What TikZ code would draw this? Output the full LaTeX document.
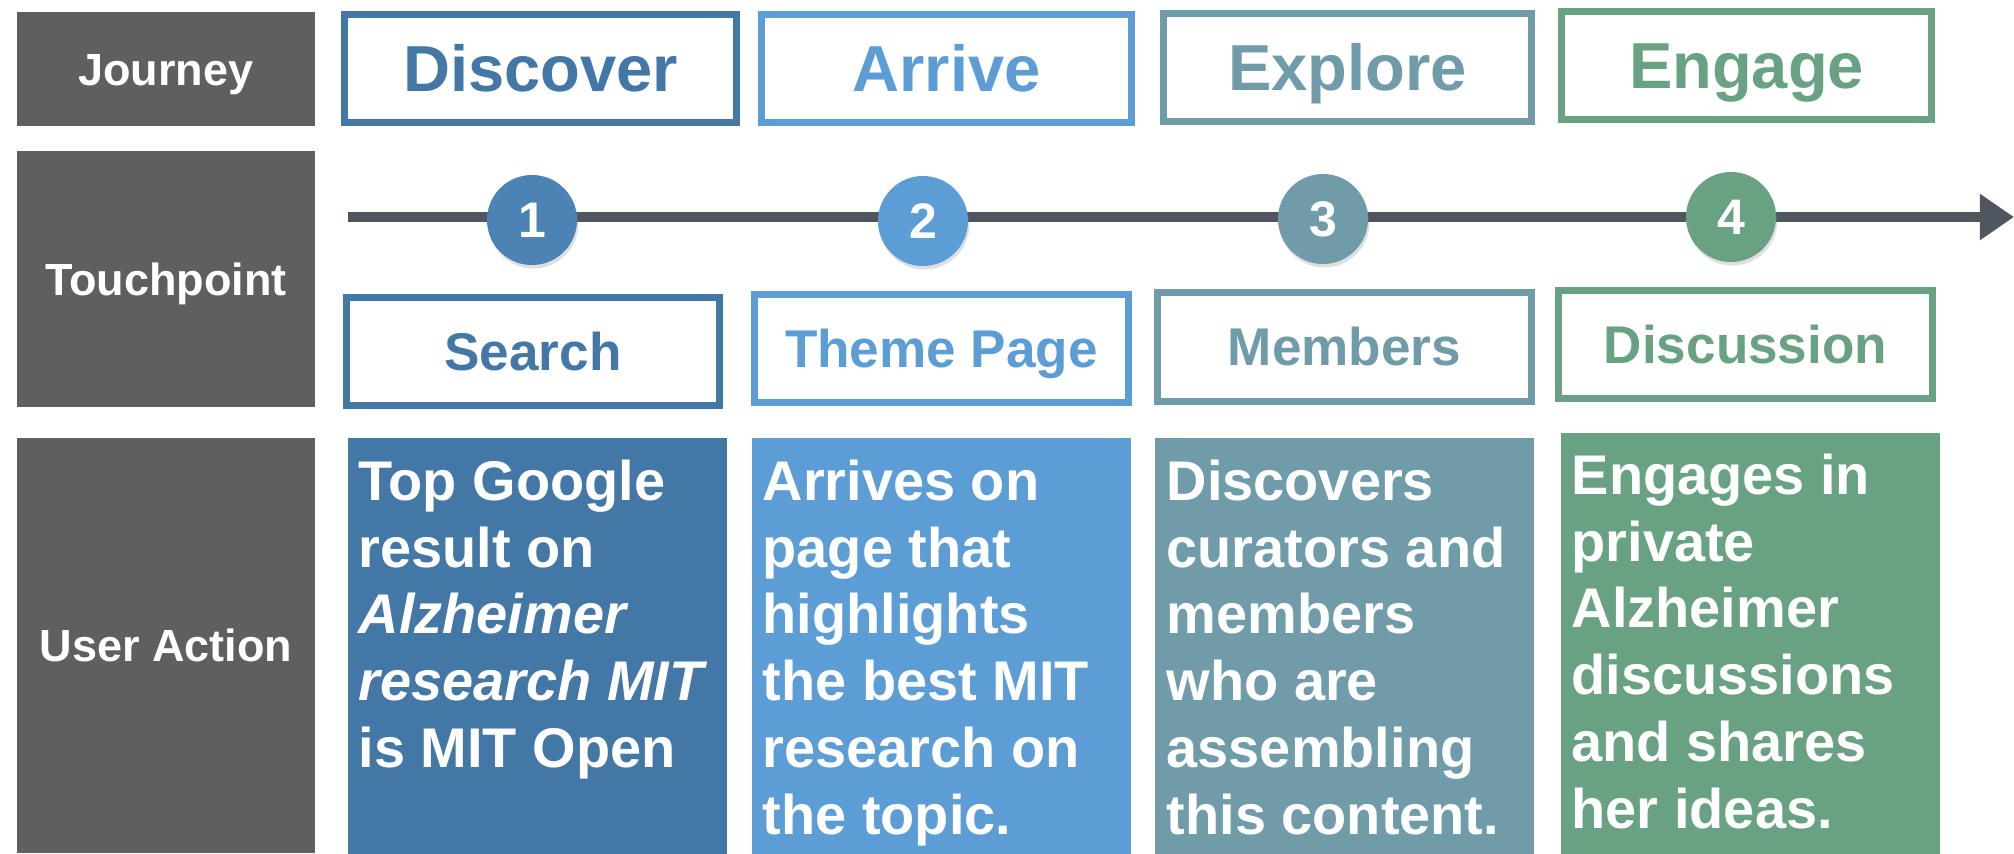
\documentclass[tikz,border=0pt]{standalone}
\usepackage{fontspec}
\setmainfont{Liberation Sans}
\usetikzlibrary{arrows.meta,shadows}
\definecolor{labelgray}{HTML}{5E5F5E}
\definecolor{linegray}{HTML}{50565F}
\definecolor{discover}{HTML}{4377A5}
\definecolor{discoverdot}{HTML}{4B83B4}
\definecolor{arrive}{HTML}{5D9DD6}
\definecolor{explore}{HTML}{709BA8}
\definecolor{engage}{HTML}{69A282}
\begin{document}
\begin{tikzpicture}[x=0.01cm, y=0.01cm,
  rowlabel/.style={fill=labelgray, text=white, inner sep=0pt, minimum width=2.98cm,
    text height=9.2pt, text depth=0pt, font=\fontsize{12.8}{15}\selectfont\bfseries},
  stagebox/.style={draw=#1, text=#1, line width=2pt, fill=white, inner sep=0pt,
    minimum height=1.08cm, text height=13.3pt, text depth=0pt,
    font=\fontsize{18.5}{22}\selectfont\bfseries},
  pointbox/.style={draw=#1, text=#1, line width=2pt, fill=white, inner sep=0pt,
    minimum width=3.74cm, minimum height=1.08cm, text height=10.8pt, text depth=0pt,
    font=\fontsize{15.1}{18}\selectfont\bfseries},
  numdot/.style={circle, fill=#1, text=white, inner sep=0pt, minimum size=0.9cm,
    drop shadow={shadow xshift=0.4pt, shadow yshift=-1pt, opacity=0.25},
    font=\fontsize{14.2}{17}\selectfont\bfseries},
  actbox/.style={fill=#1, anchor=north west, inner sep=0pt, minimum width=3.79cm},
  acttext/.style={text=white, anchor=north west, inner sep=0pt, align=left,
    font=\fontsize{15.9}{19}\selectfont\bfseries}]
  \useasboundingbox (0,0) rectangle (2014,853);
  % row labels
  \node[rowlabel, minimum height=1.14cm] (journey) at (166,784) {Journey};
  \node[rowlabel, minimum height=2.56cm] (touch) at (166,574) {Touchpoint};
  \node[rowlabel, minimum height=4.15cm] (useract) at (166,207.5) {User Action};
  % journey stages
  \node[stagebox=discover, minimum width=3.92cm] (discover) at (540.5,784.5) {Discover};
  \node[stagebox=arrive, minimum width=3.70cm] (arrive) at (946.5,784.5) {Arrive};
  \node[stagebox=explore, minimum width=3.68cm] (explore) at (1347.5,785.5) {Explore};
  \node[stagebox=engage, minimum width=3.70cm] (engage) at (1746.5,787.5) {Engage};
  % timeline
  \coordinate (tlstart) at (348,636);
  \coordinate (tlend) at (2014,636);
  \draw[linegray, line width=2.85pt, -{Triangle[length=0.34cm, width=0.44cm]}] (tlstart) -- (tlend);
  \node[numdot=discoverdot] (p1) at (532,633) {1};
  \node[numdot=arrive] (p2) at (923,632) {2};
  \node[numdot=explore] (p3) at (1323,634) {3};
  \node[numdot=engage] (p4) at (1731,636) {4};
  % touchpoints
  \node[pointbox=discover, minimum width=3.73cm] (search) at (533,501.5) {Search};
  \node[pointbox=arrive] (theme) at (941.5,504.5) {Theme Page};
  \node[pointbox=explore] (members) at (1344.5,506) {Members};
  \node[pointbox=engage] (discuss) at (1745.5,508.5) {Discussion};
  % user actions
  \node[actbox=discover, minimum height=4.16cm] (a1) at (347,416) {};
  \node[actbox=arrive, minimum height=4.16cm] (a2) at (751,416) {};
  \node[actbox=explore, minimum height=4.16cm] (a3) at (1154,416) {};
  \node[actbox=engage, minimum height=4.21cm] (a4) at (1560,421) {};
  \node[acttext] (t1) at ([shift={(11,-22)}]a1.north west)
    {Top Google\\result on\\\textit{Alzheimer}\\\textit{research MIT}\\is MIT Open};
  \node[acttext] (t2) at ([shift={(11,-22)}]a2.north west)
    {Arrives on\\page that\\highlights\\the best MIT\\research on\\the topic.};
  \node[acttext] (t3) at ([shift={(12,-22)}]a3.north west)
    {Discovers\\curators and\\members\\who are\\assembling\\this content.};
  \node[acttext] (t4) at ([shift={(11,-21)}]a4.north west)
    {Engages in\\private\\Alzheimer\\discussions\\and shares\\her ideas.};
\end{tikzpicture}
\end{document}
